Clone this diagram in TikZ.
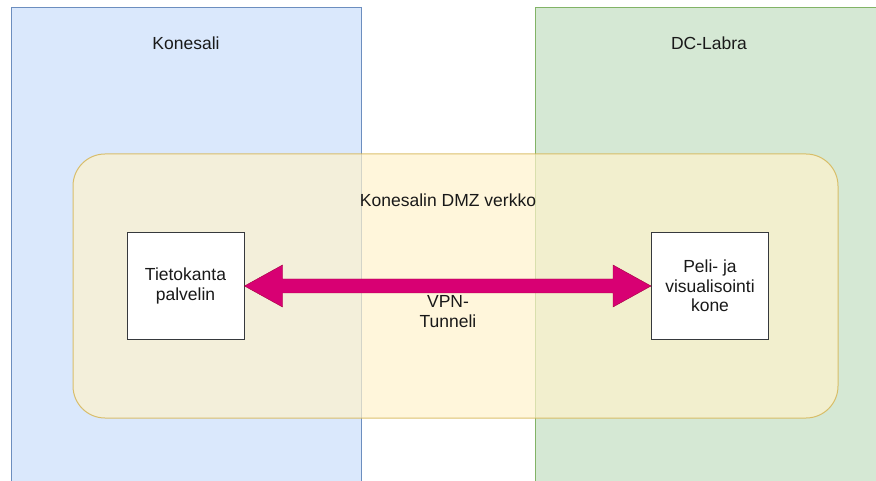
\documentclass[tikz,border=0pt]{standalone}
\usepackage{fontspec}
\setmainfont{Liberation Sans}
\usetikzlibrary{calc}
\definecolor{zoneblue}{HTML}{DAE8FC}
\definecolor{zoneblueline}{HTML}{6C8EBF}
\definecolor{zonegreen}{HTML}{D5E8D4}
\definecolor{zonegreenline}{HTML}{82B366}
\definecolor{dmzfill}{HTML}{FFF2CC}
\definecolor{dmzline}{HTML}{D6B656}
\definecolor{tunnelfill}{HTML}{D80073}
\definecolor{tunnelline}{HTML}{A50040}
\definecolor{boxline}{HTML}{36393D}
\tikzset{
  x=1pt, y=-1pt,
  lbl/.style={font=\fontsize{17.5}{20}\selectfont, text=black!90, align=center},
  hostbox/.style={draw=boxline, line width=1pt, fill=white, minimum width=117pt,
    minimum height=106pt, inner sep=2pt, font=\fontsize{17.5}{19.5}\selectfont,
    text=black!90, align=center},
}
\begin{document}
\begin{tikzpicture}
\useasboundingbox (0,0) rectangle (876,481);
% site zones
\begin{scope}
\clip (0,0) rectangle (876,481);
\draw[fill=zoneblue, draw=zoneblueline, line width=1pt] (11,8) rectangle (361,490);
\draw[fill=zonegreen, draw=zonegreenline, line width=1pt] (535,8) rectangle (890,490);
\end{scope}
\node[lbl] (konesali) at (186,43) {Konesali};
\node[lbl] (dclabra) at (709,43) {DC-Labra};
% DMZ network area
\draw[fill=dmzfill, draw=dmzline, fill opacity=0.7, draw opacity=0.85, line width=1pt,
  rounded corners=32pt] (73,154) rectangle (838,418);
\node[lbl] (dmz) at (448,200) {Konesalin DMZ verkko};
% hosts
\node[hostbox] (db) at (185.5,286) {Tietokanta\\palvelin};
\node[hostbox] (game) at (710,286) {Peli- ja\\visualisointi\\kone};
% VPN tunnel double arrow
\draw[fill=tunnelfill, draw=tunnelline, line width=0.4pt, line join=miter]
  (db.east) -- ++(38,-21) -- ++(0,14) -- ($(game.west)+(-38,-7)$) -- ++(0,-14)
  -- (game.west) -- ++(-38,21) -- ++(0,-14) -- ($(db.east)+(38,7)$) -- ++(0,14) -- cycle;
\node[lbl] (vpn) at (448,312) {VPN-\\Tunneli};
\end{tikzpicture}
\end{document}
